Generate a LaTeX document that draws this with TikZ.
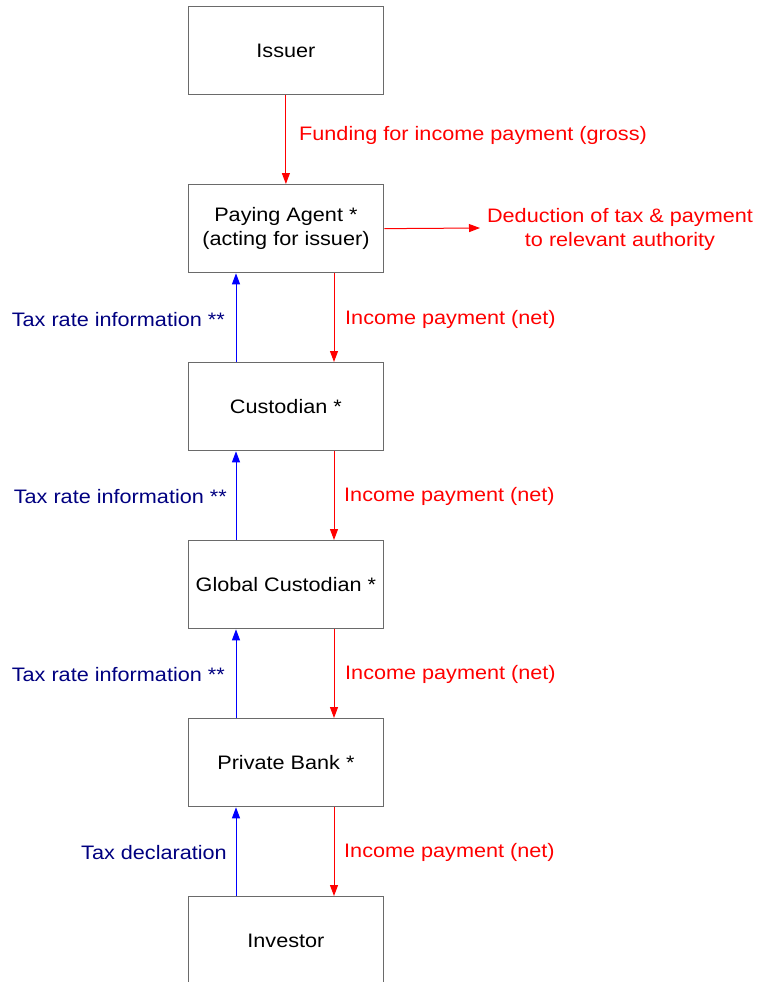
\documentclass[tikz,border=0pt]{standalone}
\usepackage{fontspec}
\setmainfont{Liberation Sans}[FakeStretch=1.11]
\usetikzlibrary{arrows.meta}
\definecolor{boxgray}{HTML}{6A6A6A}
\definecolor{navytext}{HTML}{000080}
\tikzset{
  entity/.style={draw=boxgray, line width=1.3pt, fill=white, minimum width=195.5pt, minimum height=88pt, inner sep=0pt, align=center, font=\fontsize{19.5}{24}\selectfont},
  redflow/.style={draw=red, line width=1pt, -{Triangle[length=11pt,width=8pt]}, color=red},
  blueflow/.style={draw=blue, line width=1pt, -{Triangle[length=11pt,width=8pt]}, color=blue},
  redlabel/.style={text=red, inner sep=0pt, font=\fontsize{19.5}{24}\selectfont, align=center},
  bluelabel/.style={text=navytext, inner sep=0pt, font=\fontsize{19.5}{24}\selectfont}
}
\begin{document}
\begin{tikzpicture}[x=1pt,y=-1pt]
\useasboundingbox (0,0) rectangle (758,982);
\clip (0,0) rectangle (758,982);
\node[entity, anchor=north west] (issuer) at (187.5,6) {Issuer};
\node[entity, anchor=north west] (pa) at (187.5,184) {Paying Agent *\\(acting for issuer)};
\node[entity, anchor=north west] (cust) at (187.5,362) {Custodian *};
\node[entity, anchor=north west] (gc) at (187.5,540) {Global Custodian *};
\node[entity, anchor=north west] (pb) at (187.5,718) {Private Bank *};
\node[entity, anchor=north west, minimum height=88pt] (inv) at (187.5,896) {Investor};
% labels
\node[redlabel, anchor=west] (l1) at (299,135.5) {Funding for income payment (gross)};
\node[redlabel, anchor=center] (ded) at (620,229) {Deduction of tax \& payment\\to relevant authority};
\node[redlabel, anchor=west] (r1) at (345,319.5) {Income payment (net)};
\node[redlabel, anchor=west] (r2) at (344,496.5) {Income payment (net)};
\node[redlabel, anchor=west] (r3) at (345,674.5) {Income payment (net)};
\node[redlabel, anchor=west] (r4) at (344,852.5) {Income payment (net)};
\node[bluelabel, anchor=east] (b1) at (225,319.5) {Tax rate information **};
\node[bluelabel, anchor=east] (b2) at (227,496.5) {Tax rate information **};
\node[bluelabel, anchor=east] (b3) at (225,674.5) {Tax rate information **};
\node[bluelabel, anchor=east] (b4) at (227,852.5) {Tax declaration};
\coordinate (dedin) at (480,228);
% arrows
\draw[redflow] (issuer.south) -- (pa.north);
\draw[redflow] (pa.east) -- (dedin);
\draw[redflow] (pa.south -| 334,0) -- (cust.north -| 334,0);
\draw[redflow] (cust.south -| 334,0) -- (gc.north -| 334,0);
\draw[redflow] (gc.south -| 334,0) -- (pb.north -| 334,0);
\draw[redflow] (pb.south -| 334,0) -- (inv.north -| 334,0);
\draw[blueflow] (cust.north -| 236,0) -- (pa.south -| 236,0);
\draw[blueflow] (gc.north -| 236,0) -- (cust.south -| 236,0);
\draw[blueflow] (pb.north -| 236,0) -- (gc.south -| 236,0);
\draw[blueflow] (inv.north -| 236,0) -- (pb.south -| 236,0);
\end{tikzpicture}
\end{document}
